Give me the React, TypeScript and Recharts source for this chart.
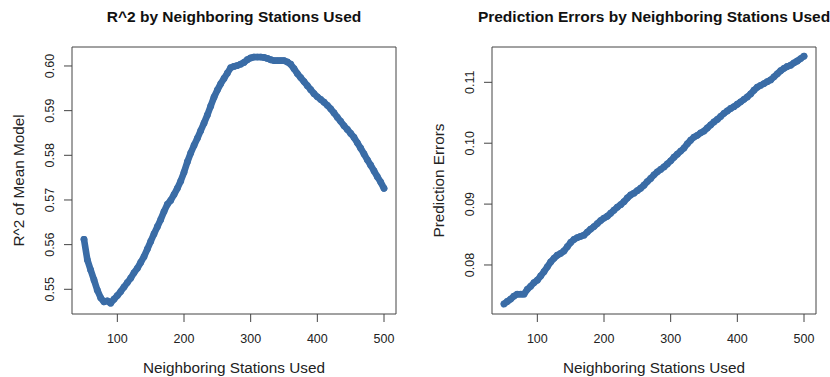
import React from "react";
import {
  ReferenceArea,
  Scatter,
  ScatterChart,
  XAxis,
  YAxis,
} from "recharts";

const stations = [
  50, 55, 60, 65, 70, 75, 80, 85, 90, 95, 100, 105, 110, 115, 120, 125, 130,
  135, 140, 145, 150, 155, 160, 165, 170, 175, 180, 185, 190, 195, 200, 205,
  210, 215, 220, 225, 230, 235, 240, 245, 250, 255, 260, 265, 270, 275, 280,
  285, 290, 295, 300, 305, 310, 315, 320, 325, 330, 335, 340, 345, 350, 355,
  360, 365, 370, 375, 380, 385, 390, 395, 400, 405, 410, 415, 420, 425, 430,
  435, 440, 445, 450, 455, 460, 465, 470, 475, 480, 485, 490, 495, 500,
];

const r2 = [
  0.5612, 0.5566, 0.5543, 0.5521, 0.5498, 0.5481, 0.5472, 0.5474, 0.5469,
  0.5478, 0.5486, 0.5495, 0.5505, 0.5515, 0.5525, 0.5537, 0.5547, 0.556,
  0.5573, 0.559, 0.5607, 0.5624, 0.564, 0.5656, 0.5674, 0.569, 0.5699, 0.5712,
  0.5726, 0.5742, 0.5762, 0.5785, 0.5805, 0.5822, 0.5838, 0.5855, 0.5872,
  0.589, 0.591, 0.593, 0.5946, 0.596, 0.5972, 0.5984, 0.5996, 0.5999, 0.6001,
  0.6004, 0.6008, 0.6014, 0.6018, 0.602, 0.602, 0.602, 0.6019, 0.6017, 0.6014,
  0.6012, 0.6012, 0.6012, 0.6012, 0.6009, 0.6004, 0.5994, 0.5983, 0.5974,
  0.5965, 0.5956, 0.5947, 0.5938, 0.5931, 0.5925, 0.5919, 0.5912, 0.5904,
  0.5895, 0.5885, 0.5876, 0.5866, 0.5858, 0.5849, 0.584, 0.5828, 0.5816,
  0.5803, 0.579, 0.5778, 0.5765, 0.5752, 0.574, 0.5726,
];

const errors = [
  0.0736, 0.074, 0.0744, 0.0749, 0.0752, 0.0752, 0.0752, 0.076, 0.0765,
  0.0771, 0.0775, 0.0782, 0.0789, 0.0797, 0.0805, 0.0811, 0.0816, 0.0819,
  0.0823, 0.083, 0.0837, 0.0842, 0.0845, 0.0847, 0.0849, 0.0854, 0.0859,
  0.0863, 0.0868, 0.0873, 0.0877, 0.088, 0.0885, 0.089, 0.0895, 0.0899,
  0.0904, 0.091, 0.0915, 0.0918, 0.0922, 0.0926, 0.0931, 0.0937, 0.0942,
  0.0948, 0.0953, 0.0957, 0.0961, 0.0966, 0.0971, 0.0977, 0.0982, 0.0987,
  0.0992, 0.0999, 0.1005, 0.101, 0.1013, 0.1017, 0.102, 0.1025, 0.103, 0.1035,
  0.1039, 0.1044, 0.1049, 0.1053, 0.1057, 0.106, 0.1064, 0.1068, 0.1072,
  0.1076, 0.1081, 0.1087, 0.1092, 0.1095, 0.1098, 0.1101, 0.1104, 0.1109,
  0.1114, 0.1119, 0.1123, 0.1126, 0.1128, 0.1132, 0.1135, 0.1139, 0.1143,
];

const xTicks = [100, 200, 300, 400, 500];
const r2Ticks = [0.55, 0.56, 0.57, 0.58, 0.59, 0.6];
const errorTicks = [0.08, 0.09, 0.1, 0.11];

const r2Data = stations.map((x, i) => ({ x, y: r2[i] }));
const errorData = stations.map((x, i) => ({ x, y: errors[i] }));

const FONT = "'Liberation Sans', Arial, Helvetica, sans-serif";
const POINT = "#3a6ca6";
const INK = "#222";
const LINES = "#444";

const XTick = ({ x, y, payload }: any) => (
  <text x={x} y={y + 19} textAnchor="middle" fontSize={12.5} fill={INK} fontFamily={FONT}>
    {payload.value}
  </text>
);

const YTick = (digits: number) => ({ x, y, payload }: any) => (
  <text
    x={0}
    y={0}
    transform={`translate(${x - 8},${y}) rotate(-90)`}
    textAnchor="middle"
    fontSize={12.5}
    fill={INK}
    fontFamily={FONT}
  >
    {payload.value.toFixed(digits)}
  </text>
);

const Dot = (props: any) => <circle cx={props.cx} cy={props.cy} r={3.4} fill={POINT} />;

type PanelProps = {
  title: string;
  yTitle: string;
  data: { x: number; y: number }[];
  yDomain: [number, number];
  yTicks: number[];
  digits: number;
  yWidth: number;
  right: number;
};

function Panel({ title, yTitle, data, yDomain, yTicks, digits, yWidth, right }: PanelProps) {
  return (
    <ScatterChart
      width={415}
      height={377}
      margin={{ top: 47, right, bottom: 0, left: 0 }}
      style={{ fontFamily: FONT }}
    >
      <XAxis
        type="number"
        dataKey="x"
        domain={[32, 518]}
        ticks={xTicks}
        allowDataOverflow
        height={63}
        axisLine={false}
        tickSize={8}
        tickLine={{ stroke: LINES }}
        tick={<XTick />}
        label={{
          content: (p: any) => (
            <text
              x={p.viewBox.x + p.viewBox.width / 2}
              y={p.viewBox.y + 59}
              textAnchor="middle"
              fontSize={15.3}
              fill={INK}
              fontFamily={FONT}
            >
              Neighboring Stations Used
            </text>
          ),
        }}
      />
      <YAxis
        type="number"
        dataKey="y"
        domain={yDomain}
        ticks={yTicks}
        allowDataOverflow
        width={yWidth}
        axisLine={false}
        tickSize={8}
        tickLine={{ stroke: LINES }}
        tick={YTick(digits)}
        label={{
          content: (p: any) => {
            const cx = p.viewBox.x + p.viewBox.width - 48;
            const cy = p.viewBox.y + p.viewBox.height / 2;
            return (
              <text
                x={0}
                y={0}
                transform={`translate(${cx},${cy}) rotate(-90)`}
                textAnchor="middle"
                fontSize={15.3}
                fill={INK}
                fontFamily={FONT}
              >
                {yTitle}
              </text>
            );
          },
        }}
      />
      <ReferenceArea
        x1={32}
        x2={518}
        y1={yDomain[0]}
        y2={yDomain[1]}
        fill="none"
        fillOpacity={0}
        stroke={LINES}
        strokeWidth={1}
        label={{
          content: (p: any) => (
            <text
              x={p.viewBox.x + p.viewBox.width / 2}
              y={21.5}
              textAnchor="middle"
              fontSize={15.5}
              fontWeight="bold"
              fill="#111"
              fontFamily={FONT}
            >
              {title}
            </text>
          ),
        }}
      />
      <Scatter
        data={data}
        fill={POINT}
        shape={<Dot />}
        line={{ stroke: POINT, strokeWidth: 6.6, strokeLinejoin: "round", strokeLinecap: "round" }}
        isAnimationActive={false}
      />
    </ScatterChart>
  );
}

export default function App() {
  return (
    <div style={{ position: "absolute", left: 0, top: 0, width: 830, height: 377, display: "flex", background: "#fff" }}>
      <Panel
        title="R^2 by Neighboring Stations Used"
        yTitle="R^2 of Mean Model"
        data={r2Data}
        yDomain={[0.54447, 0.60425]}
        yTicks={r2Ticks}
        digits={2}
        yWidth={72}
        right={19}
      />
      <Panel
        title="Prediction Errors by Neighboring Stations Used"
        yTitle="Prediction Errors"
        data={errorData}
        yDomain={[0.07195, 0.1158]}
        yTicks={errorTicks}
        digits={2}
        yWidth={77}
        right={14}
      />
    </div>
  );
}
